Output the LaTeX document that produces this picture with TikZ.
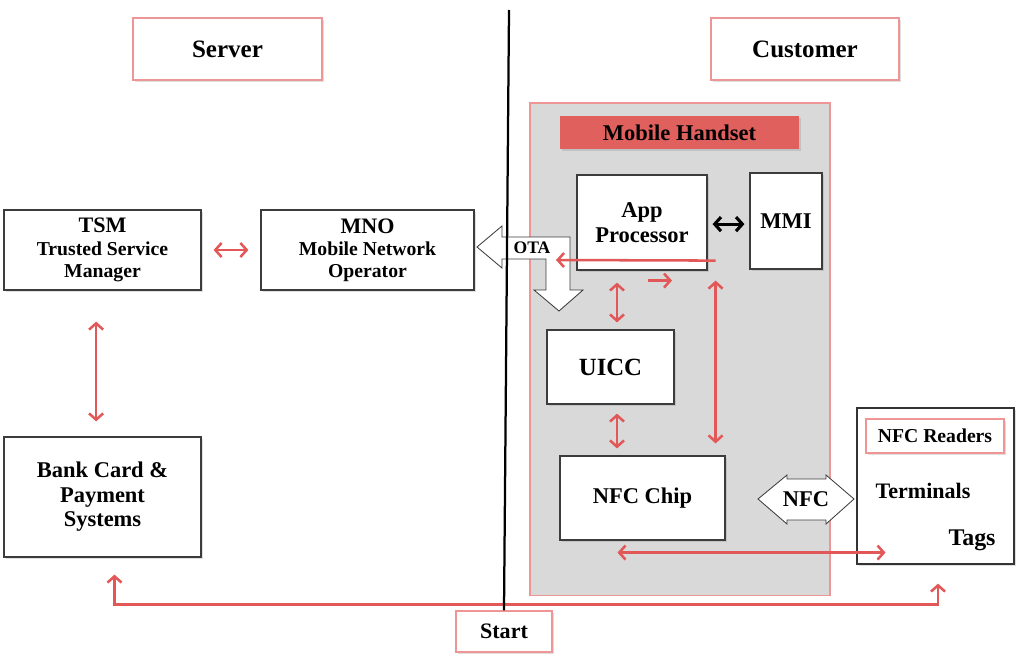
\documentclass[tikz,border=0pt]{standalone}
\usepackage{fontspec}
\setmainfont{Liberation Serif}
\usetikzlibrary{arrows.meta, positioning, shadows}
\definecolor{linkred}{RGB}{226,88,88}
\definecolor{labelred}{RGB}{224,96,94}
\definecolor{edgepink}{RGB}{238,150,150}
\definecolor{handgray}{RGB}{217,217,217}
\definecolor{boxgray}{RGB}{60,60,60}

\begin{document}
\begin{tikzpicture}[
    x=0.025cm, y=-0.025cm,
    >={Straight Barb[length=4.5pt,width=10pt]},
    shade/.style={drop shadow={opacity=0.25, shadow xshift=0.04cm, shadow yshift=-0.04cm}},
    box/.style={rectangle, draw=boxgray, line width=0.8pt, fill=white, align=center, inner sep=0pt, shade, font=\bfseries\fontsize{16}{17.5}\selectfont},
    tag/.style={rectangle, draw=edgepink, line width=0.8pt, fill=white, align=center, inner sep=0pt, shade, font=\bfseries\fontsize{17.8}{20}\selectfont},
    link/.style={draw=linkred, line width=1.8pt},
    blockarrow/.style={draw=boxgray, fill=white, line width=0.6pt, line join=miter}
]
\useasboundingbox (0,0) rectangle (1024,665);

% Headers
\node[tag, minimum width=4.725cm, minimum height=1.55cm] (server) at (227.5,49) {Server};
\node[tag, minimum width=4.7cm, minimum height=1.55cm] (customer) at (805,49) {Customer};

% Server side
\node[box, minimum width=4.925cm, minimum height=2cm, font=\bfseries\fontsize{15.7}{15.8}\selectfont] (tsm) at (102.5,250) {TSM\\{\fontsize{14}{15.8}\selectfont Trusted Service}\\{\fontsize{14}{15.8}\selectfont Manager}};
\node[box, minimum width=5.325cm, minimum height=2cm, font=\bfseries\fontsize{15.7}{15.8}\selectfont] (mno) at (367.5,250) {MNO\\{\fontsize{14}{15.8}\selectfont Mobile Network}\\{\fontsize{14}{15.8}\selectfont Operator}};
\node[box, minimum width=4.925cm, minimum height=3cm] (bank) at (102.5,497) {Bank Card \&\\Payment\\Systems};

% Mobile handset
\node[rectangle, draw=edgepink, fill=handgray, line width=0.8pt, minimum width=7.5cm, minimum height=12.3cm] (handset) at (680,349) {};
\node[rectangle, fill=labelred, shade, minimum width=5.975cm, minimum height=0.825cm, font=\bfseries\fontsize{16}{18}\selectfont] (handlabel) at (679.5,132.5) {Mobile Handset};
\node[box, minimum width=3.25cm, minimum height=2.375cm] (app) at (642,222.5) {App\\Processor};
\node[box, minimum width=1.8cm, minimum height=2.4cm] (mmi) at (786,221) {MMI};
\node[box, minimum width=3.175cm, minimum height=1.85cm, font=\bfseries\fontsize{17.6}{19}\selectfont] (uicc) at (610.5,367) {UICC};
\node[box, minimum width=4.125cm, minimum height=2.1cm] (nfcchip) at (642.5,498) {NFC Chip};

% Readers, terminals, tags
\node[box, draw=black!80, minimum width=3.925cm, minimum height=3.9cm] (ext) at (935.5,486) {};
\node[tag, minimum width=3.45cm, minimum height=0.85cm, font=\bfseries\fontsize{14}{16}\selectfont] (readers) at (935,436) {NFC Readers};
\node[font=\bfseries\fontsize{15.7}{18}\selectfont] (terminals) at (923,491) {Terminals};
\node[font=\bfseries\fontsize{17}{19}\selectfont] (tags) at (972,540) {Tags};

% Start
\node[tag, minimum width=2.4cm, minimum height=1.025cm, font=\bfseries\fontsize{15.7}{18}\selectfont] (start) at (504,631.5) {Start};

% OTA and NFC block arrows
\draw[blockarrow] (477,247) -- (502,226) -- (502,237) -- (570,237) -- (570,290) -- (583,290) -- (559,311) -- (534,290) -- (546,290) -- (546,259) -- (502,259) -- (502,268) -- cycle;
\node[font=\bfseries\fontsize{12.5}{14}\selectfont] (ota) at (532,248) {OTA};
\draw[blockarrow] (758,499) -- (787,475) -- (787,479) -- (826,479) -- (826,475) -- (854,499) -- (826,524) -- (826,520) -- (787,520) -- (787,524) -- cycle;
\node[font=\bfseries\fontsize{16}{18}\selectfont] (nfclink) at (806,499) {NFC};

% Arrows
\coordinate (otaend) at (556,260);
\draw[link, <->, shorten <=0.3cm, shorten >=0.3cm] (tsm) -- (mno);
\draw[link, <->, shorten <=0.775cm, shorten >=0.375cm] ([xshift=-0.16cm]tsm.south) -- ([xshift=-0.16cm]bank.north);
\draw[<->, black, line width=2.2pt, shorten <=0.125cm, shorten >=0.125cm] ([yshift=-0.04cm]app.east) -- ([yshift=-0.04cm]app.east -| mmi.west);
\draw[link, ->] ([shift={(8,-10)}]app.south east) -- (otaend);
\draw[link, ->] ([shift={(6,10)}]app.south) -- ++(24,0);
\draw[link, <->, shorten <=0.3cm, shorten >=0.175cm] ([xshift=-0.625cm]app.south) -- ([xshift=-0.625cm]app.south |- uicc.north);
\draw[link, <->, shorten <=0.225cm, shorten >=0.175cm] ([xshift=-0.625cm]app.south |- uicc.south) -- ([xshift=-0.625cm]app.south |- nfcchip.north);
\draw[link, <->, shorten <=0.25cm, shorten >=0.3cm] ([xshift=0.2cm]app.south east) -- ([xshift=0.2cm]app.south east |- nfcchip.north);
\draw[link, <->] ([shift={(-25,12)}]nfcchip.south) -- ++(268,0);
\draw[link, <->] ([shift={(12,17)}]bank.south) -- ++(0,30) -| ([shift={(2.5,19)}]ext.south);

% Divider
\coordinate (divtop) at (509,10);
\draw[black, line width=1.6pt] (divtop) -- (start.north);

\end{tikzpicture}
\end{document}
